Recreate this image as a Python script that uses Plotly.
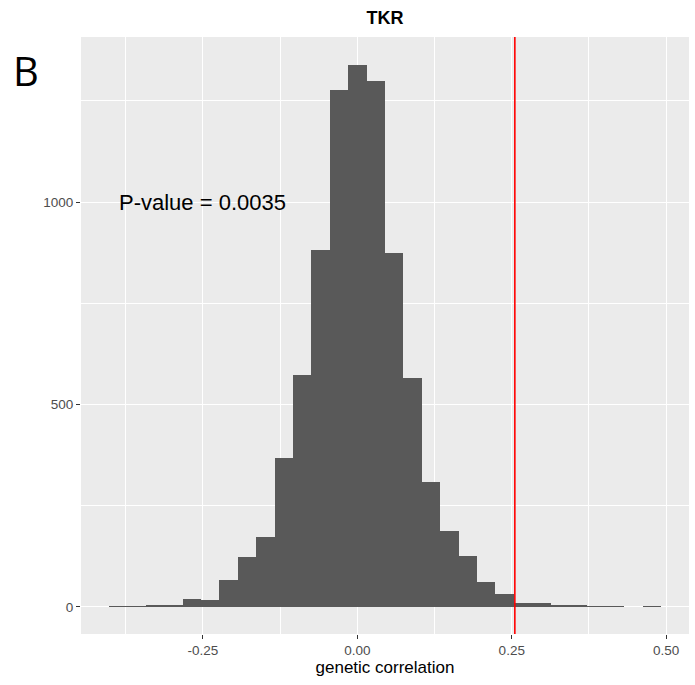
import plotly.graph_objects as go

# Histogram of permuted genetic correlations (bin centres and counts)
bin_centers = [-0.3874, -0.3576, -0.3278, -0.2980, -0.2682, -0.2384, -0.2086, -0.1788,
               -0.1490, -0.1192, -0.0894, -0.0596, -0.0298, 0.0000, 0.0298, 0.0596,
               0.0894, 0.1192, 0.1490, 0.1788, 0.2086, 0.2384, 0.2682, 0.2980,
               0.3278, 0.3576, 0.3874, 0.4172, 0.4470, 0.4768]
counts = [2, 1, 5, 3, 20, 17, 66, 123, 173, 368, 574, 882, 1276, 1340, 1300, 875,
          566, 308, 188, 125, 62, 31, 10, 10, 5, 3, 1, 1, 0, 1]
bin_width = 0.0298
observed_rg = 0.255
p_label = "P-value = 0.0035"
title_text = "TKR"
panel_letter = "B"
x_ticks = [-0.25, 0.0, 0.25, 0.50]
x_ticklabels = ["-0.25", "0.00", "0.25", "0.50"]
y_ticks = [0, 500, 1000]
y_ticklabels = ["0", "500", "1000"]

FONT = "Liberation Sans, Arial, sans-serif"

# pixel layout: panel spans x 81..689, y 37..634
W, H = 695, 685
L, R, T, B = 81, 6, 37, 51
PW, PH = W - L - R, H - T - B

fig = go.Figure()
fig.add_trace(go.Bar(
    x=bin_centers, y=counts, width=bin_width,
    marker=dict(color="#595959", line=dict(width=0)),
    showlegend=False, hoverinfo="x+y",
))

fig.add_shape(type="line", xref="x", yref="paper", x0=observed_rg, x1=observed_rg,
              y0=0, y1=1, line=dict(color="#FF0000", width=1.6))

fig.add_annotation(x=-0.25, y=1000, xref="x", yref="y", text=p_label, showarrow=False,
                   font=dict(family=FONT, size=22, color="#000000"),
                   xanchor="center", yanchor="middle")

fig.add_annotation(x=(11 - L) / PW, y=(H - B - 71) / PH, xref="paper", yref="paper",
                   text=panel_letter, showarrow=False,
                   font=dict(family="Open Sans, Liberation Sans, sans-serif", size=40, color="#000000"),
                   xanchor="left", yanchor="middle")

fig.update_layout(
    width=W, height=H,
    margin=dict(l=L, r=R, t=T, b=B, pad=0),
    paper_bgcolor="white", plot_bgcolor="#EBEBEB",
    bargap=0,
    title=dict(text="<b>" + title_text + "</b>", x=(L + PW / 2) / W, xanchor="center",
               y=1 - 18 / H, yanchor="middle",
               font=dict(family=FONT, size=18, color="#000000")),
    font=dict(family=FONT),
    xaxis=dict(
        range=[-0.4475, 0.537], tickvals=x_ticks, ticktext=x_ticklabels,
        showgrid=True, gridcolor="white", gridwidth=1.3, zeroline=False,
        ticks="outside", ticklen=4, tickwidth=1.1, tickcolor="#333333",
        tickfont=dict(family=FONT, size=13.5, color="#4D4D4D"),
        minor=dict(tickvals=[-0.375, -0.125, 0.125, 0.375], showgrid=True,
                   gridcolor="white", gridwidth=0.6, ticks=""),
        title=dict(text="genetic correlation", font=dict(family=FONT, size=17, color="#000000"),
                   standoff=3),
        showline=False,
    ),
    yaxis=dict(
        range=[-67, 1408], tickvals=y_ticks, ticktext=y_ticklabels,
        showgrid=True, gridcolor="white", gridwidth=1.3, zeroline=False,
        ticks="outside", ticklen=4, tickwidth=1.1, tickcolor="#333333",
        tickfont=dict(family=FONT, size=13.5, color="#4D4D4D"),
        minor=dict(tickvals=[250, 750, 1250], showgrid=True,
                   gridcolor="white", gridwidth=0.6, ticks=""),
        showline=False,
    ),
)

fig.write_html("out.html")
